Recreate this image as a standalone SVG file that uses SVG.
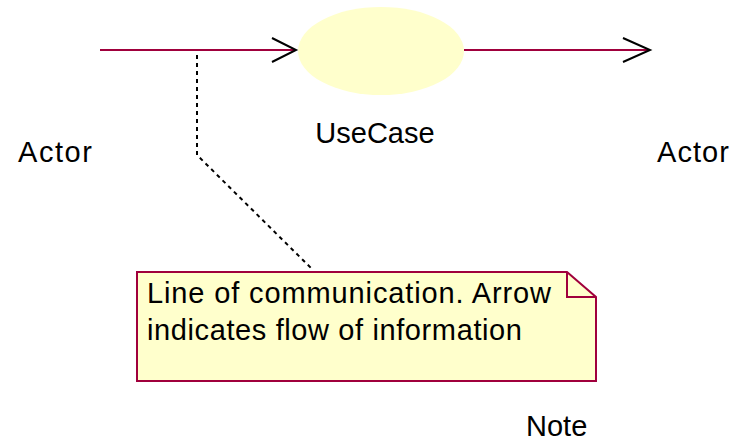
<svg xmlns="http://www.w3.org/2000/svg" width="732" height="441" viewBox="0 0 732 441">
<style>
.t{font-family:"Liberation Sans",Arial,sans-serif;font-size:29px;fill:#000}
.assoc{stroke:#A0003C;stroke-width:2;fill:none}
.head{stroke:#000;stroke-width:2;fill:none}
.anchor{stroke:#000;stroke-width:2;stroke-dasharray:4 4;fill:none}
</style>
<rect width="732" height="441" fill="#fff"/>
<g id="actor-left"><text class="t" x="18" y="162" textLength="74" lengthAdjust="spacing">Actor</text></g>
<g id="usecase">
<ellipse cx="381" cy="51" rx="83" ry="44" fill="#FFFFCC"/>
<text class="t" x="375" y="143" text-anchor="middle">UseCase</text>
</g>
<g id="actor-right"><text class="t" x="657" y="162" textLength="72" lengthAdjust="spacing">Actor</text></g>
<g id="note">
<path d="M137,272 H567 L596,297 V381 H137 Z" fill="#FFFFCC" stroke="#A0003C" stroke-width="2"/>
<path d="M567,272 V297 H596" fill="none" stroke="#A0003C" stroke-width="2"/>
<text class="t" x="147" y="303" textLength="404" lengthAdjust="spacing">Line of communication. Arrow</text>
<text class="t" x="147" y="340" textLength="375" lengthAdjust="spacing">indicates flow of information</text>
</g>
<g id="note-label"><text class="t" x="526" y="436">Note</text></g>
<g id="connectors">
<line class="assoc" x1="100" y1="50" x2="296" y2="50"/>
<polyline class="head" points="272,38 296,50 272,62"/>
<line class="assoc" x1="464" y1="50" x2="650" y2="50"/>
<polyline class="head" points="623,38 650,50 623,62"/>
<path class="anchor" d="M197,55 V155 L313,270"/>
</g>
</svg>
